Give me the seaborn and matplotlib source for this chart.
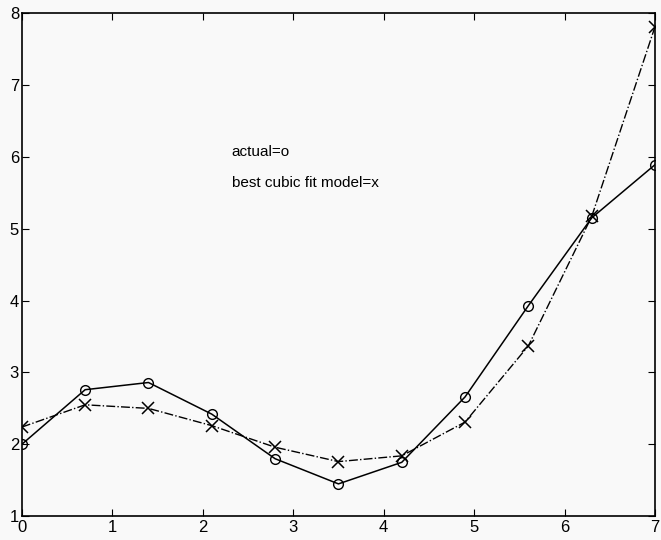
import numpy as np
import pandas as pd
import matplotlib
matplotlib.use("Agg")
import matplotlib.pyplot as plt
import seaborn as sns

# data
x_vals = [0.0, 0.7, 1.4, 2.1, 2.8, 3.5, 4.2, 4.9, 5.6, 6.3, 7.0]
actual = [2.00, 2.76, 2.86, 2.42, 1.80, 1.45, 1.75, 2.66, 3.93, 5.15, 5.89]
cubic_fit = [2.24, 2.55, 2.50, 2.26, 1.96, 1.76, 1.84, 2.31, 3.37, 5.17, 7.81]
x_ticks = [0, 1, 2, 3, 4, 5, 6, 7]
y_ticks = [1, 2, 3, 4, 5, 6, 7, 8]

sns.set_style("ticks")
plt.rcParams['font.family'] = ['Liberation Sans', 'DejaVu Sans']
plt.rcParams['text.color'] = 'black'
plt.rcParams['xtick.color'] = 'black'
plt.rcParams['ytick.color'] = 'black'

df = pd.DataFrame({"x": x_vals, "actual": actual, "fit": cubic_fit})

fig = plt.figure(figsize=(6.61, 5.40), dpi=100, facecolor="#f9f9f9")
ax = fig.add_axes([0.033, 0.044, 0.958, 0.932])
ax.set_facecolor("#f9f9f9")

sns.lineplot(data=df, x="x", y="actual", color="black", linewidth=1.1,
             marker="o", markersize=7, markerfacecolor="none",
             markeredgecolor="black", markeredgewidth=1.0, ax=ax)
sns.lineplot(data=df, x="x", y="fit", color="black", linewidth=1.0,
             linestyle="-.", marker="x", markersize=8,
             markeredgecolor="black", markeredgewidth=1.1, ax=ax)

ax.text(2.32, 6.06, "actual=o", fontsize=11, va="center", ha="left", color="black")
ax.text(2.32, 5.64, "best cubic fit model=x", fontsize=11, va="center", ha="left",
        color="black")

ax.set_xlim(0, 7)
ax.set_ylim(1, 8)
ax.set_xticks(x_ticks)
ax.set_yticks(y_ticks)
ax.set_xlabel("")
ax.set_ylabel("")
ax.tick_params(direction="in", length=5, width=0.8, top=True, right=True,
               labelsize=12, labelcolor="black")
ax.tick_params(axis="x", pad=3)
ax.tick_params(axis="y", pad=2)
for s in ax.spines.values():
    s.set_visible(True)
    s.set_linewidth(1.2)
    s.set_color("black")

fig.savefig("out.png", dpi=100, facecolor=fig.get_facecolor())
